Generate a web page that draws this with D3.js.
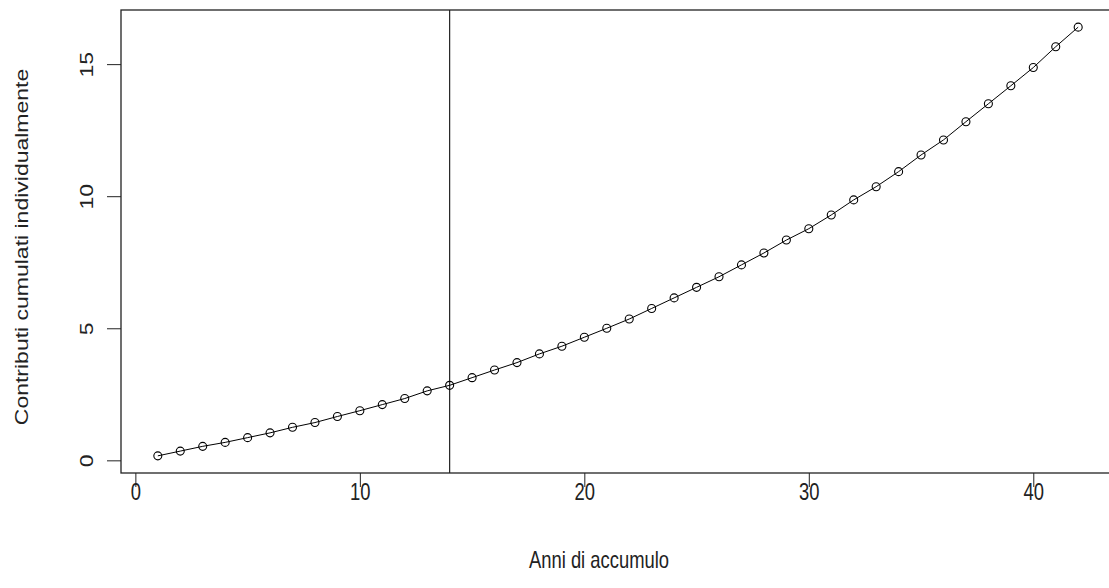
<!DOCTYPE html>
<html>
<head>
<meta charset="utf-8">
<script src="https://cdn.jsdelivr.net/npm/d3@7"></script>
<style>
  body { margin: 0; background: #fff; }
  svg { display: block; font-family: "Liberation Sans", Arial, sans-serif; }
  .box, .tick line, .vline { stroke: #222; fill: none; }
  .series { stroke: #000; fill: none; stroke-width: 1; }
  .pt { stroke: #000; fill: none; stroke-width: 1.1; }
  text { fill: #222; }
</style>
</head>
<body>
<script>
const width = 1109;
const height = 588;

// anni 1..42
const years = d3.range(1, 43);
const contributi = [
  0.17, 0.35, 0.53, 0.68, 0.86, 1.04, 1.25, 1.43, 1.66, 1.88,
  2.11, 2.34, 2.63, 2.84, 3.13, 3.42, 3.70, 4.03, 4.32, 4.66,
  5.00, 5.35, 5.75, 6.15, 6.55, 6.95, 7.40, 7.85, 8.34, 8.77,
  9.29, 9.86, 10.36, 10.93, 11.56, 12.13, 12.82, 13.50, 14.18, 14.87,
  15.66, 16.40
];
const xTicks = [0, 10, 20, 30, 40];
const yTicks = [0, 5, 10, 15];
const vLineAt = 14;

const xLabel = 'Anni di accumulo';
const yLabel = 'Contributi cumulati individualmente';

const plot = { left: 121, right: 1115, top: 10, bottom: 473 };
const fontSize = 23;
const squeeze = 0.8; // the original text looks horizontally squashed

// R style 4% padding
function pad(ext) {
  const d = ext[1] - ext[0];
  return [ext[0] - 0.04 * d, ext[1] + 0.04 * d];
}

const x = d3.scaleLinear()
  .domain(pad(d3.extent(years)))
  .range([plot.left, plot.right]);

const y = d3.scaleLinear()
  .domain(pad(d3.extent(contributi)))
  .range([plot.bottom, plot.top]);

const data = years.map((yr, i) => ({ x: yr, y: contributi[i] }));

const svg = d3.select('body')
  .append('svg')
  .attr('width', width)
  .attr('height', height);

// axes
const xAxis = svg.append('g')
  .attr('transform', `translate(0, ${plot.bottom})`)
  .call(d3.axisBottom(x).tickValues(xTicks).tickSize(14).tickFormat(d3.format('d')));
xAxis.select('.domain').remove();
xAxis.selectAll('text')
  .attr('font-size', fontSize)
  .attr('font-family', '"Liberation Sans", Arial, sans-serif')
  .attr('y', null)
  .attr('dy', null)
  .attr('dominant-baseline', 'middle')
  .attr('transform', `translate(0, 21) scale(${squeeze}, 1)`);

const yAxis = svg.append('g')
  .attr('transform', `translate(${plot.left}, 0)`)
  .call(d3.axisLeft(y).tickValues(yTicks).tickSize(14).tickFormat(d3.format('d')));
yAxis.select('.domain').remove();
yAxis.selectAll('text')
  .attr('font-size', fontSize)
  .attr('font-family', '"Liberation Sans", Arial, sans-serif')
  .attr('text-anchor', 'middle')
  .attr('dy', null)
  .attr('x', null)
  .attr('transform', `translate(-33, 0) rotate(-90) scale(1, ${squeeze})`)
  .attr('dominant-baseline', 'middle');

// box
svg.append('rect')
  .classed('box', true)
  .attr('x', plot.left)
  .attr('y', plot.top)
  .attr('width', plot.right - plot.left)
  .attr('height', plot.bottom - plot.top)
  .attr('stroke-width', 1.3);

// abline v=14
svg.append('line')
  .classed('vline', true)
  .attr('x1', x(vLineAt))
  .attr('x2', x(vLineAt))
  .attr('y1', plot.top)
  .attr('y2', plot.bottom)
  .attr('stroke-width', 1.2);

// type = "o"
svg.append('path')
  .datum(data)
  .classed('series', true)
  .attr('d', d3.line().x(d => x(d.x)).y(d => y(d.y)));

svg.append('g')
  .selectAll('circle')
  .data(data)
  .join('circle')
  .classed('pt', true)
  .attr('cx', d => x(d.x))
  .attr('cy', d => y(d.y))
  .attr('r', 4);

// titles
svg.append('text')
  .attr('transform', `translate(599, 562) scale(${squeeze}, 1)`)
  .attr('text-anchor', 'middle')
  .attr('dominant-baseline', 'middle')
  .attr('font-size', fontSize)
  .text(xLabel);

svg.append('text')
  .attr('transform', `translate(23, 247) rotate(-90) scale(1, ${squeeze})`)
  .attr('text-anchor', 'middle')
  .attr('dominant-baseline', 'middle')
  .attr('font-size', fontSize)
  .text(yLabel);
</script>
</body>
</html>
